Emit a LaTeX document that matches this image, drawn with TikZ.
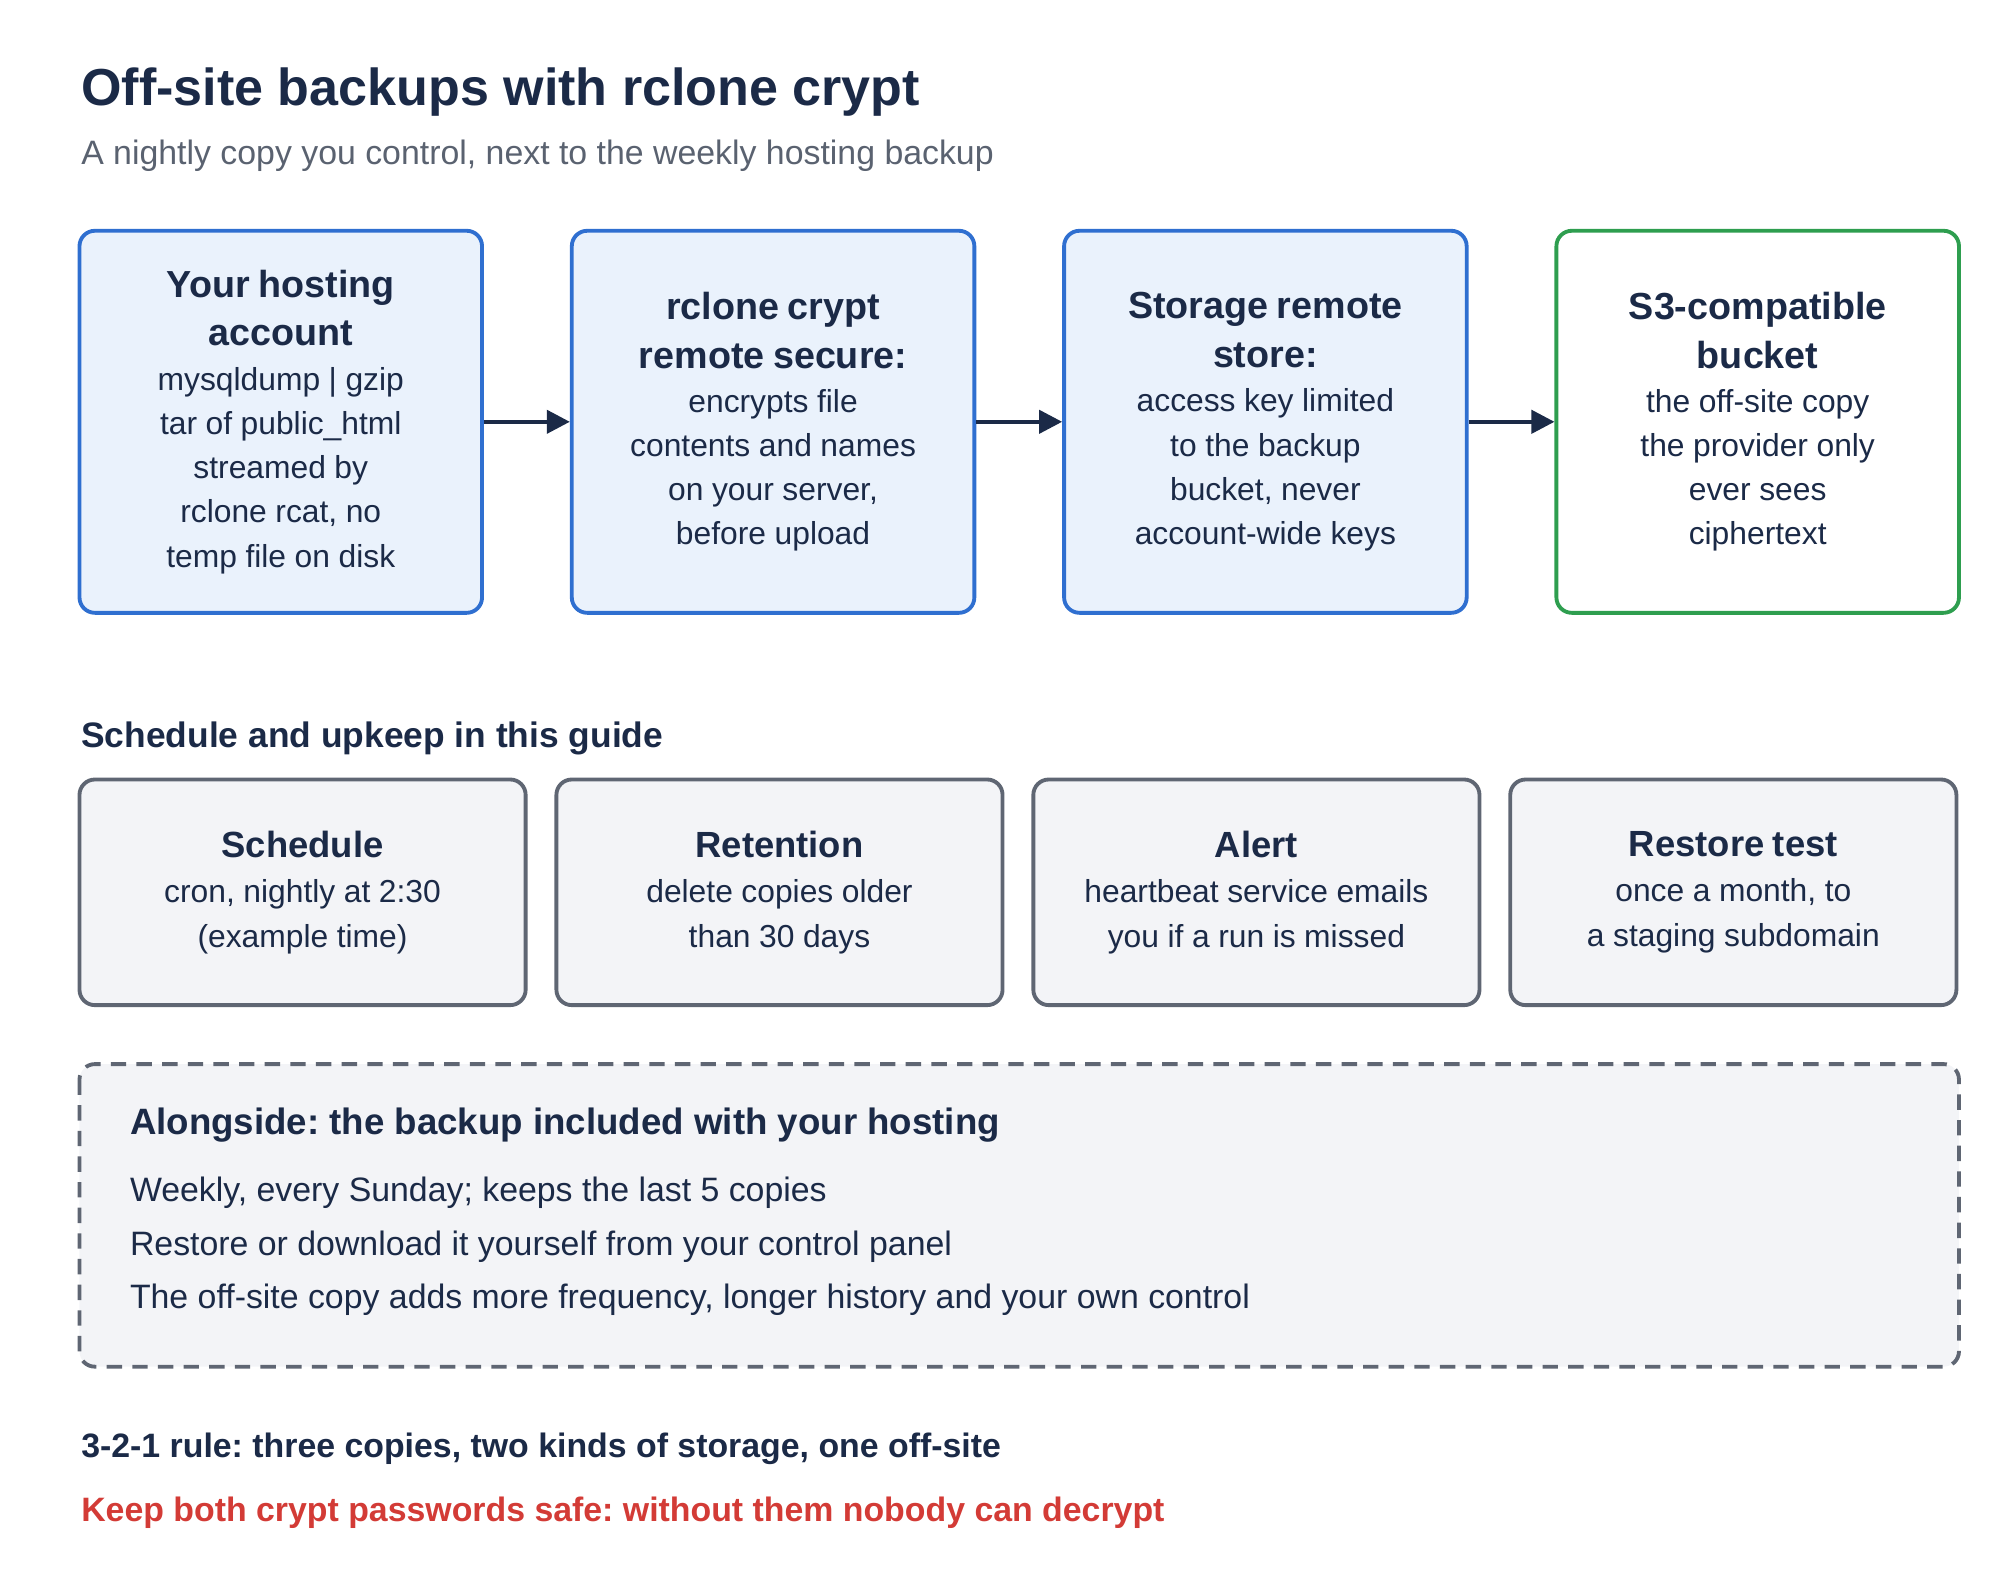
\documentclass[tikz,border=0pt]{standalone}
\usepackage{fontspec}
\setmainfont{Liberation Sans}
\usetikzlibrary{arrows.meta}
\definecolor{navy}{HTML}{1B2A47}
\definecolor{subg}{HTML}{5A6270}
\definecolor{bfill}{HTML}{EAF2FC}
\definecolor{bline}{HTML}{2F6FD0}
\definecolor{gline}{HTML}{2E9E4F}
\definecolor{gfill}{HTML}{F3F4F7}
\definecolor{gbord}{HTML}{5F6673}
\definecolor{redt}{HTML}{D33B36}
\newcommand{\tf}{\fontsize{14.7}{19}\selectfont\bfseries}
\newcommand{\bodyf}{\fontsize{12.4}{17.25}\selectfont\mdseries}
\newcommand{\smalltf}{\fontsize{14.2}{19}\selectfont\bfseries}
\newcommand{\smallbf}{\fontsize{12.4}{17.5}\selectfont\mdseries}
\frenchspacing
\begin{document}
\frenchspacing
\begin{tikzpicture}[x=0.5pt,y=-0.5pt,
  flow/.style={draw=bline,fill=bfill,line width=1.5pt,rounded corners=6pt,minimum width=157pt,minimum height=149pt,text width=150pt,align=center,text=navy,inner sep=0pt},
  dest/.style={flow,draw=gline,fill=white},
  sched/.style={draw=gbord,fill=gfill,line width=1.5pt,rounded corners=6pt,minimum width=174pt,minimum height=88pt,text width=168pt,align=center,text=navy,inner sep=0pt},
  arr/.style={-{Triangle[length=9pt,width=9pt]},line width=1.6pt,draw=navy},
  plain/.style={anchor=base west,inner sep=0pt,text=navy}]
\useasboundingbox (0,0) rectangle (1560,1232);
\node[plain,font=\fontsize{20.3}{25}\selectfont\bfseries] (title) at (63,82) {Off-site backups with rclone crypt};
\node[plain,text=subg,font=\fontsize{13.2}{16}\selectfont] (sub) at (63,128) {A nightly copy you control, next to the weekly hosting backup};

\node[flow] (a) at (219,329) {\tf Your hosting\\account\par\bodyf mysqldump | gzip\\tar of public\_html\\streamed by\\rclone rcat, no\\temp file on disk\par};
\node[flow] (b) at (603,329) {\tf rclone crypt\\remote secure:\par\bodyf encrypts file\\contents and names\\on your server,\\before upload\par};
\node[flow] (c) at (987,329) {\tf Storage remote\\store:\par\bodyf access key limited\\to the backup\\bucket, never\\account-wide keys\par};
\node[dest] (d) at (1371,329) {\tf S3-compatible\\bucket\par\bodyf the off-site copy\\the provider only\\ever sees\\ciphertext\par};
\draw[arr] (a) -- (b);
\draw[arr] (b) -- (c);
\draw[arr] (c) -- (d);

\node[plain,font=\fontsize{13.8}{16}\selectfont\bfseries] (sh) at (63,583) {Schedule and upkeep in this guide};
\node[sched] (s1) at (236,696) {\smalltf Schedule\par\smallbf cron, nightly at 2:30\\(example time)\par};
\node[sched] (s2) at (608,696) {\smalltf Retention\par\smallbf delete copies older\\than 30 days\par};
\node[sched] (s3) at (980,696) {\smalltf Alert\par\smallbf heartbeat service emails\\you if a run is missed\par};
\node[sched] (s4) at (1352,696) {\smalltf Restore test\par\smallbf once a month, to\\a staging subdomain\par};

\draw[draw=gbord,fill=gfill,line width=1.5pt,rounded corners=6pt,dash pattern=on 6pt off 4pt] (62,830) rectangle (1528,1066);
\node[plain,font=\fontsize{14.3}{17}\selectfont\bfseries] (ah) at (101,885) {Alongside: the backup included with your hosting};
\node[plain,font=\fontsize{13.2}{16}\selectfont] (l1) at (101,937) {Weekly, every Sunday; keeps the last 5 copies};
\node[plain,font=\fontsize{13.2}{16}\selectfont] (l2) at (101,979) {Restore or download it yourself from your control panel};
\node[plain,font=\fontsize{13.2}{16}\selectfont] (l3) at (101,1021) {The off-site copy adds more frequency, longer history and your own control};

\node[plain,font=\fontsize{13.2}{16}\selectfont\bfseries] (r1) at (63,1137) {3-2-1 rule: three copies, two kinds of storage, one off-site};
\node[plain,text=redt,font=\fontsize{13.2}{16}\selectfont\bfseries] (r2) at (63,1187) {Keep both crypt passwords safe: without them nobody can decrypt};
\end{tikzpicture}
\end{document}
